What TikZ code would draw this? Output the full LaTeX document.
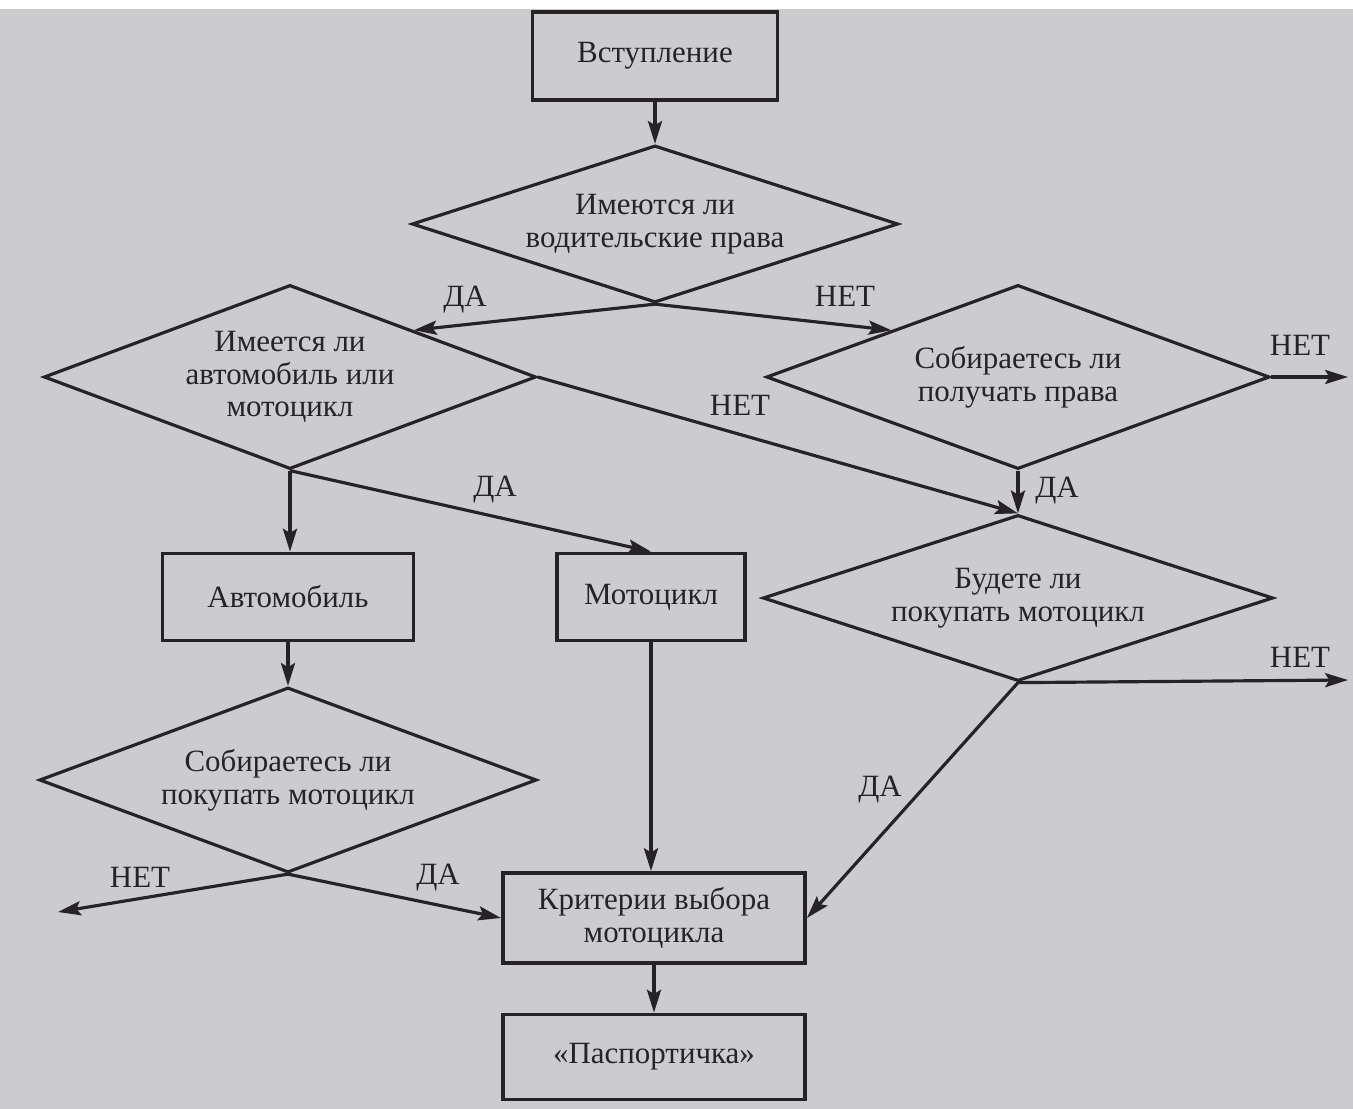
\documentclass[tikz,border=0pt]{standalone}
\usepackage{fontspec}
\setmainfont{Liberation Serif}
\usepackage{xcolor}
\usetikzlibrary{shapes.geometric,arrows.meta,positioning,calc}
\definecolor{paper}{RGB}{204,204,206}
\definecolor{ink}{RGB}{38,34,38}

\begin{document}
\begin{tikzpicture}[
  x=0.01cm, y=-0.01cm,
  font=\fontsize{8.8}{9.3}\selectfont,
  color=ink, line width=0.9pt,
  blk/.style ={draw,rectangle,align=center,inner sep=1pt,line width=1.05pt},
  dec/.style ={draw,diamond,align=center,inner sep=0pt},
  lbl/.style ={inner sep=1pt},
  >={Stealth[length=6.5pt,width=4pt,inset=1.2pt]}]

% ---------- page ----------
\fill[paper] (0,0) rectangle (1353,1109);
\fill[white] (0,0) rectangle (1353,9);
\useasboundingbox (0,0) rectangle (1353,1109);

% ---------- Row 1 : intro and licence ----------
\node[blk,minimum width=2.45cm,minimum height=0.88cm] (intro) at (655,56) {Вступление};
\node[dec,minimum width=4.86cm,minimum height=1.57cm,aspect=3.1] (lic) at (655,224)
  {Имеются ли\\водительские права};

% ---------- Row 2 : vehicle / plan ----------
\node[dec,minimum width=4.92cm,minimum height=1.84cm,aspect=2.67] (own) at (290,377)
  {Имеется ли\\автомобиль или\\мотоцикл};
\node[dec,minimum width=5.03cm,minimum height=1.84cm,aspect=2.74] (plan) at (1018,377)
  {Собираетесь ли\\получать права};

% ---------- Row 3 : boxes and buy ----------
\node[blk,minimum width=2.51cm,minimum height=0.87cm] (car)  at (288,597) {Автомобиль};
\node[blk,minimum width=1.88cm,minimum height=0.87cm] (moto) at (651,597) {Мотоцикл};
\node[dec,minimum width=5.10cm,minimum height=1.66cm,aspect=3.07] (buy) at (1018,598)
  {Будете ли\\покупать мотоцикл};

% ---------- Row 4 : second buy question ----------
\node[dec,minimum width=4.97cm,minimum height=1.85cm,aspect=2.7] (buyb) at (288,780)
  {Собираетесь ли\\покупать мотоцикл};

% ---------- Row 5 : criteria and result ----------
\node[blk,minimum width=3.02cm,minimum height=0.90cm] (crit) at (654,918)
  {Критерии выбора\\мотоцикла};
\node[blk,minimum width=3.02cm,minimum height=0.85cm] (pass) at (654,1057)
  {«Паспортичка»};

% ---------- free ends ----------
\coordinate (outA) at (1348,377);
\coordinate (outB) at (1348,680);
\coordinate (outC) at (58,912);

% ---------- connectors ----------
\draw[->] (intro) -- (lic);
\draw[->] (lic.south) -- (own.north east);
\draw[->] (lic.south) -- (plan.north west);
\draw[->] (plan.east) -- (outA);
\draw[->] (plan.south) -- (buy.north);
\draw[->] (own.east) -- (buy.north);
\draw[->] (own.south) -- (own.south |- car.north);
\draw[->] (own.south) -- (moto.north);
\draw[->] (car.south) -- (buyb.north);
\draw[->] (moto.south) -- (moto.south |- crit.north);
\draw[->] (buyb.south) -- (outC);
\draw[->] (buyb.south) -- (crit.west);
\draw[->] (buy.south) -- (crit.east);
\draw[->] (buy.south) -- (outB);
\draw[->] (crit) -- (pass);

% ---------- branch labels ----------
\node[lbl] (y1) at (465,300) {ДА};
\node[lbl] (n1) at (845,296) {НЕТ};
\node[lbl] (n2) at (1300,345) {НЕТ};
\node[lbl] (n3) at (740,405) {НЕТ};
\node[lbl] (y2) at (1057,491) {ДА};
\node[lbl] (y3) at (495,490) {ДА};
\node[lbl] (n4) at (1300,657) {НЕТ};
\node[lbl] (y4) at (880,790) {ДА};
\node[lbl] (n5) at (140,877) {НЕТ};
\node[lbl] (y5) at (438,878) {ДА};

\end{tikzpicture}
\end{document}
